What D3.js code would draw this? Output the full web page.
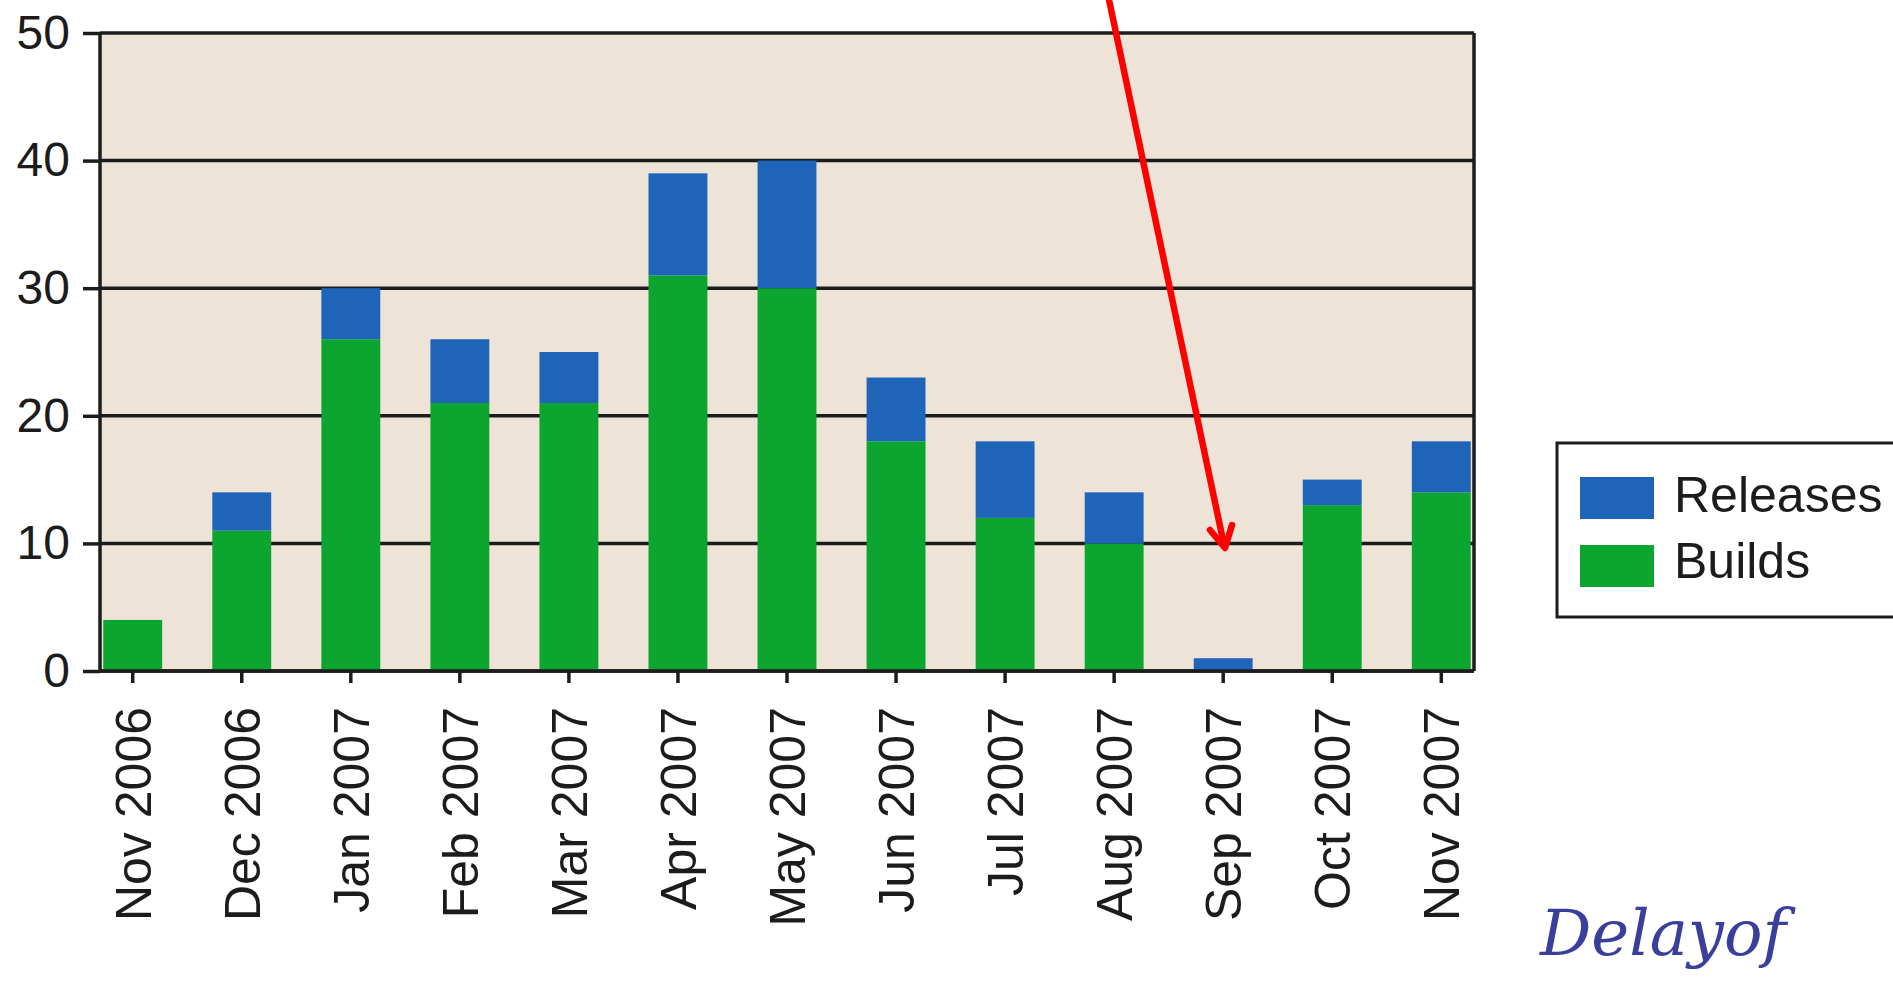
<!DOCTYPE html>
<html>
<head>
<meta charset="utf-8">
<script src="https://cdn.jsdelivr.net/npm/d3@7"></script>
<style>
  body { margin: 0; background: #fff; }
  svg { display: block; }
  text { font-family: "Liberation Sans", Arial, sans-serif; fill: #1c1c1c; }
</style>
</head>
<body>
<svg id="chart" width="1893" height="981"></svg>
<script>
// chart values
var months = ['Nov 2006', 'Dec 2006', 'Jan 2007', 'Feb 2007', 'Mar 2007', 'Apr 2007', 'May 2007',
              'Jun 2007', 'Jul 2007', 'Aug 2007', 'Sep 2007', 'Oct 2007', 'Nov 2007'];
var builds   = [4, 11, 26, 21, 21, 31, 30, 18, 12, 10, 0, 13, 14];
var releases = [0, 3, 4, 5, 4, 8, 10, 5, 6, 4, 1, 2, 4];
var yTicks = [0, 10, 20, 30, 40, 50];
var seriesNames = ['Releases', 'Builds'];
var seriesColors = { Builds: '#0ba52f', Releases: '#1e64b8' };

var svg = d3.select('#chart');
// note: "top" is taken by window.top, so use plot* names
var plotLeft = 100, plotRight = 1474, plotTop = 33, plotBottom = 671;

var x = d3.scaleBand()
  .domain(months)
  .range([plotLeft, plotRight])
  .paddingInner(0.46)
  .paddingOuter(0.03);

var y = d3.scaleLinear()
  .domain([0, 50])
  .range([plotBottom, plotTop]);

// plot background
svg.append('rect')
  .attr('x', plotLeft).attr('y', plotTop)
  .attr('width', plotRight - plotLeft).attr('height', plotBottom - plotTop)
  .attr('fill', '#ede3d6');

// grid lines
svg.append('g')
  .selectAll('line')
  .data(yTicks)
  .enter().append('line')
  .attr('x1', plotLeft).attr('x2', plotRight)
  .attr('y1', function(d) { return y(d); })
  .attr('y2', function(d) { return y(d); })
  .attr('stroke', '#1c1c1c')
  .attr('stroke-width', 3.5);

// stacked bars
var rows = months.map(function(m, i) {
  return { month: m, Builds: builds[i], Releases: releases[i] };
});
var stack = d3.stack().keys(['Builds', 'Releases'])(rows);

svg.append('g')
  .selectAll('g')
  .data(stack)
  .enter().append('g')
  .attr('fill', function(s) { return seriesColors[s.key]; })
  .selectAll('rect')
  .data(function(s) { return s; })
  .enter().append('rect')
  .attr('x', function(d) { return x(d.data.month); })
  .attr('width', x.bandwidth())
  .attr('y', function(d) { return y(d[1]); })
  .attr('height', function(d) { return y(d[0]) - y(d[1]); });

// frame: left axis and right edge
svg.append('line').attr('x1', plotLeft).attr('x2', plotLeft).attr('y1', plotTop).attr('y2', plotBottom)
  .attr('stroke', '#1c1c1c').attr('stroke-width', 3.5);
svg.append('line').attr('x1', plotRight).attr('x2', plotRight).attr('y1', plotTop).attr('y2', plotBottom)
  .attr('stroke', '#1c1c1c').attr('stroke-width', 3.5);
// redraw baseline on top of bars
svg.append('line').attr('x1', plotLeft).attr('x2', plotRight).attr('y1', plotBottom).attr('y2', plotBottom)
  .attr('stroke', '#1c1c1c').attr('stroke-width', 3.5);

// y axis
var yAxis = svg.append('g')
  .attr('transform', 'translate(' + plotLeft + ',0)')
  .call(d3.axisLeft(y).tickValues(yTicks).tickSize(17).tickPadding(13));
yAxis.select('.domain').remove();
yAxis.selectAll('line').attr('stroke', '#1c1c1c').attr('stroke-width', 3.5);
yAxis.selectAll('text')
  .style('font-size', '48px')
  .style('font-family', '"Liberation Sans", Arial, sans-serif')
  .attr('fill', '#1c1c1c');

// x axis
var xAxis = svg.append('g')
  .attr('transform', 'translate(0,' + plotBottom + ')')
  .call(d3.axisBottom(x).tickSize(12).tickPadding(0));
xAxis.select('.domain').remove();
xAxis.selectAll('line').attr('stroke', '#1c1c1c').attr('stroke-width', 3.5);
xAxis.selectAll('text')
  .style('font-size', '50px')
  .style('font-family', '"Liberation Sans", Arial, sans-serif')
  .attr('fill', '#1c1c1c')
  .attr('text-anchor', 'end')
  .attr('transform', 'rotate(-90)')
  .attr('x', -36)
  .attr('y', 0)
  .attr('dy', '0.36em');

// legend
var legend = svg.append('g');
legend.append('rect')
  .attr('x', 1557).attr('y', 443)
  .attr('width', 345).attr('height', 174)
  .attr('fill', '#fff')
  .attr('stroke', '#1c1c1c')
  .attr('stroke-width', 3);
seriesNames.forEach(function(name, i) {
  legend.append('rect')
    .attr('x', 1580).attr('y', 477 + i * 68)
    .attr('width', 74).attr('height', 42)
    .attr('fill', seriesColors[name]);
  legend.append('text')
    .attr('x', 1674).attr('y', 512 + i * 66)
    .style('font-size', '50px')
    .text(name);
});

// hand drawn annotation: red arrow pointing at Sep 2007
svg.append('line')
  .attr('x1', 1108).attr('y1', -5)
  .attr('x2', 1224).attr('y2', 545)
  .attr('stroke', '#f00').attr('stroke-width', 6.5).attr('stroke-linecap', 'round');
svg.append('polyline')
  .attr('points', '1210,530 1225,548 1232,525')
  .attr('fill', 'none')
  .attr('stroke', '#f00').attr('stroke-width', 6.5)
  .attr('stroke-linecap', 'round').attr('stroke-linejoin', 'round');

// handwritten note
svg.append('text')
  .attr('x', 1540).attr('y', 955)
  .style('font-family', '"DejaVu Serif", serif')
  .style('font-style', 'italic')
  .style('font-size', '64px')
  .style('fill', '#3b3f9c')
  .text('Delayof');
</script>
</body>
</html>
